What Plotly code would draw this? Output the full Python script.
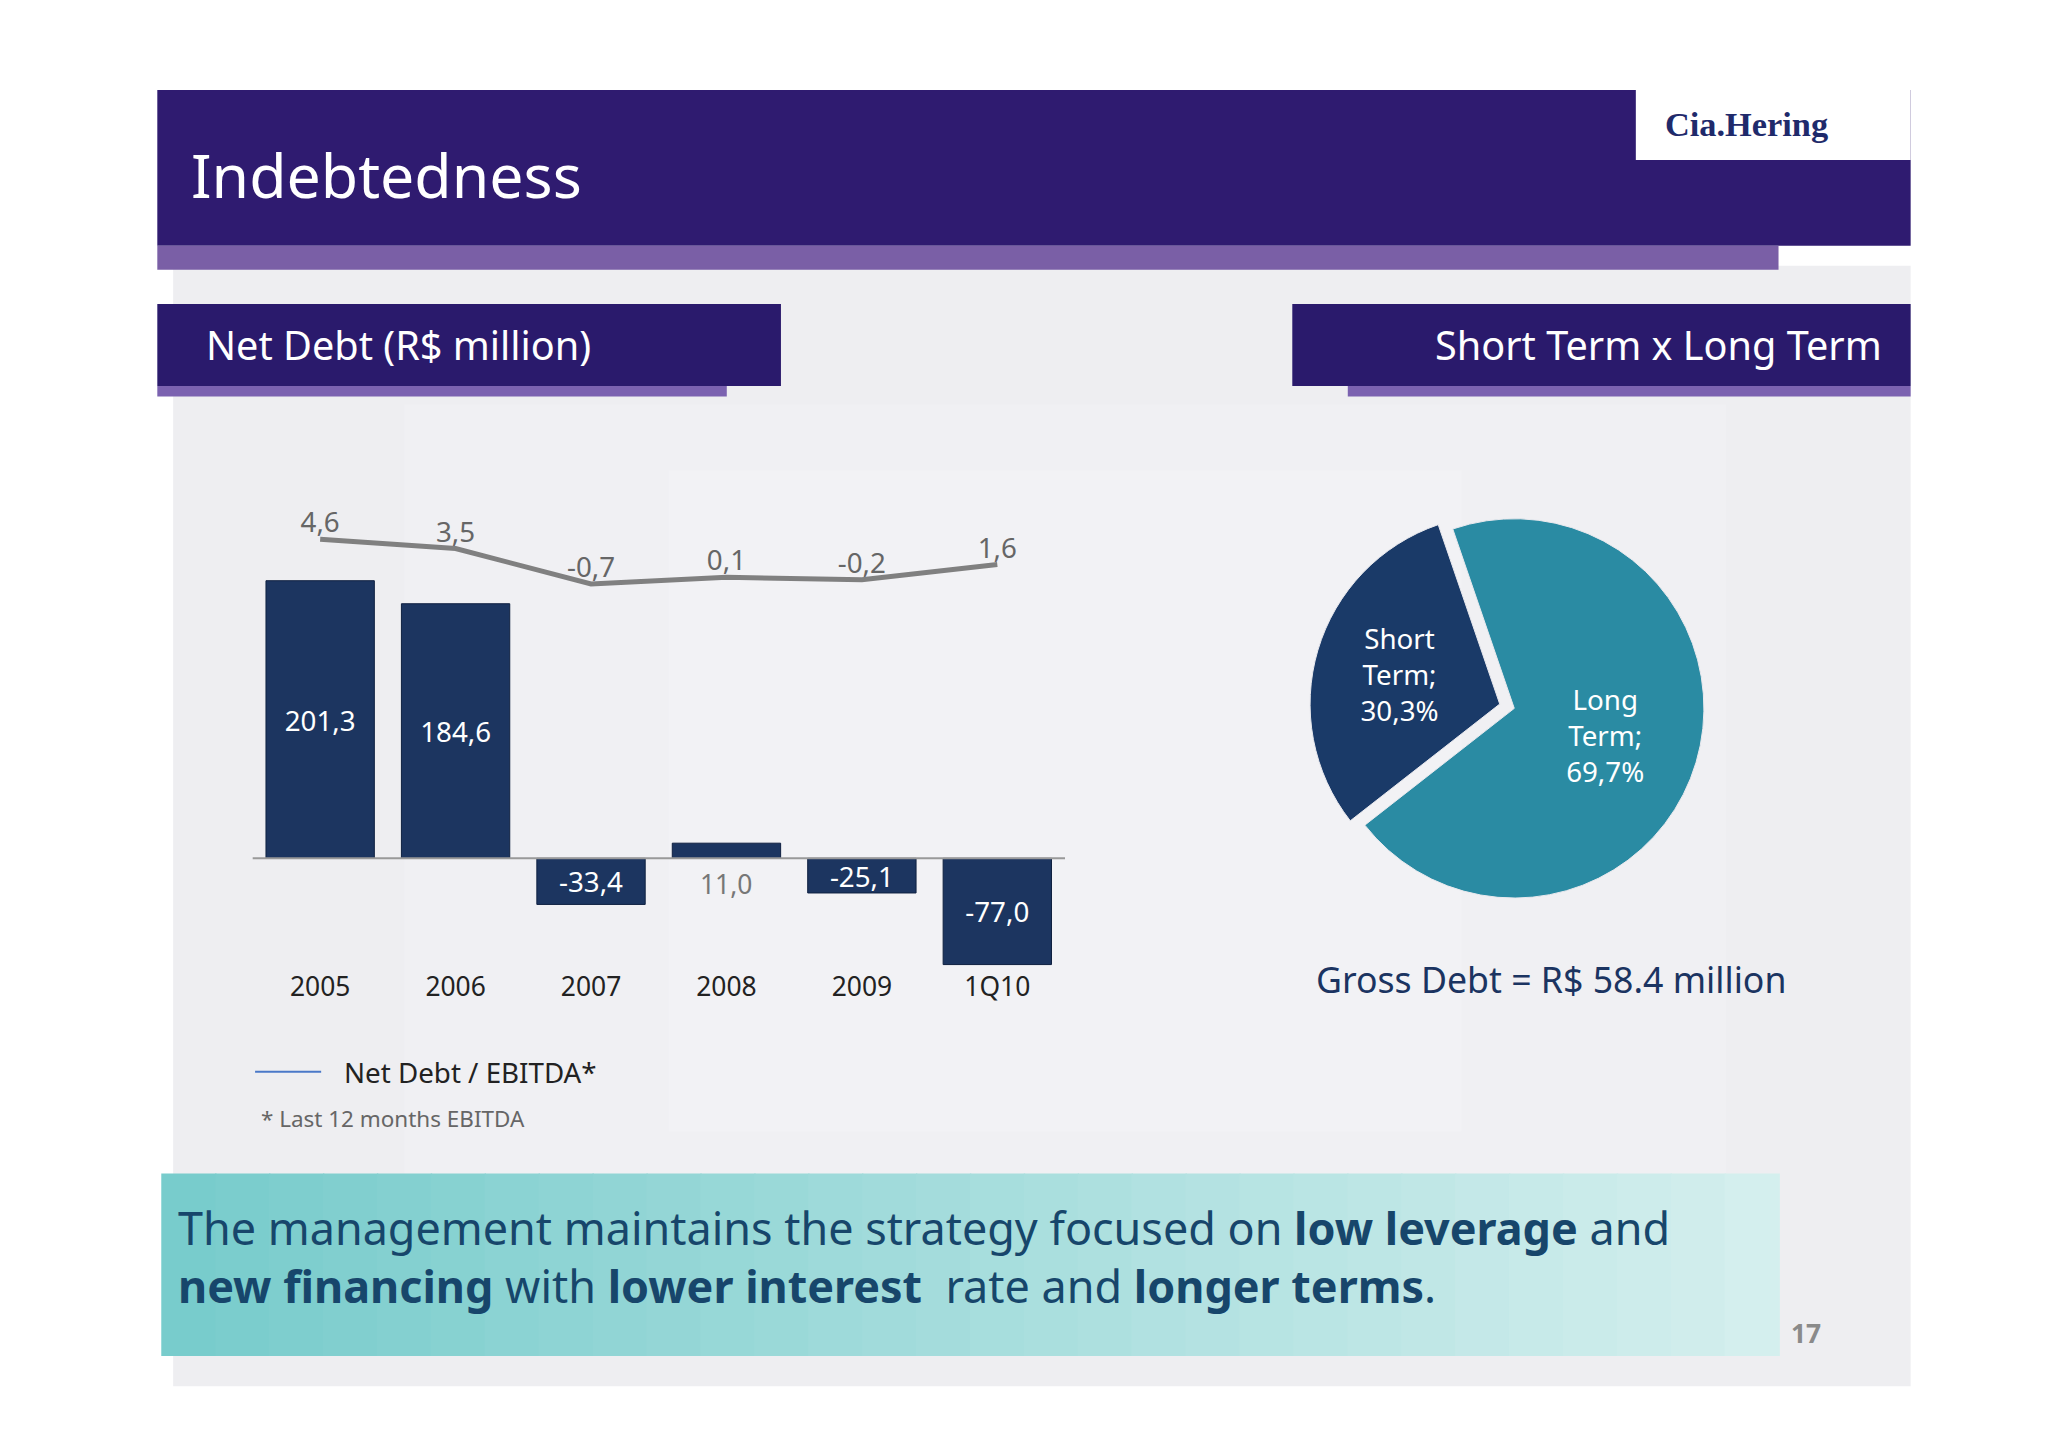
import plotly.graph_objects as go

# slide measured in a 1550 x 1095 grid, converted to paper fractions
W, H = 1550.0, 1095.0
S = 2048 / W  # font scale to real pixels

years = ["2005", "2006", "2007", "2008", "2009", "1Q10"]
net_debt = [201.3, 184.6, -33.4, 11.0, -25.1, -77.0]
net_debt_labels = ["201,3", "184,6", "-33,4", "11,0", "-25,1", "-77,0"]
ratio = [4.6, 3.5, -0.7, 0.1, -0.2, 1.6]
ratio_labels = ["4,6", "3,5", "-0,7", "0,1", "-0,2", "1,6"]
pie_labels = ["Short Term", "Long Term"]
pie_values = [30.3, 69.7]
pie_text = ["Short<br>Term;<br>30,3%", "Long<br>Term;<br>69,7%"]

FONT = "Noto Sans"
NAVY = "#1b3461"
pos = list(range(len(years)))


def px(x):
    return x / W


def py(y):
    return 1 - y / H


def rect(x0, y0, x1, y1, color):
    return dict(type="rect", xref="paper", yref="paper", x0=px(x0), x1=px(x1),
                y0=py(y1), y1=py(y0), fillcolor=color, line_width=0, layer="below")


def note(x, y, text, size, color, xanchor="left", yanchor="middle", **kw):
    return dict(xref="paper", yref="paper", x=px(x), y=py(y), text=text, showarrow=False,
                xanchor=xanchor, yanchor=yanchor,
                font=dict(family=kw.pop("family", FONT), size=size * S, color=color), **kw)


shapes = [
    rect(125, 195, 1440, 1043, "#eeeef1"),
    rect(300, 300, 1300, 900, "#f0f0f3"),
    rect(500, 350, 1100, 850, "#f2f2f5"),
    rect(113, 62, 1440, 180, "#2f1b70"),
    rect(113, 180, 1340, 198, "#7a5fa6"),
    rect(1232, 55, 1440, 115, "#ffffff"),
    rect(113, 224, 585, 286, "#2a1a6c"),
    rect(113, 286, 544, 294, "#7b62b0"),
    rect(972, 224, 1440, 286, "#2a1a6c"),
    rect(1014, 286, 1440, 294, "#7b62b0"),
]
# banner gradient
n = 30
for i in range(n):
    t = i / (n - 1)
    r = int(0x78 + (0xd4 - 0x78) * t)
    g = int(0xcc + (0xef - 0xcc) * t)
    b = int(0xcc + (0xee - 0xcc) * t)
    x0 = 116 + (1340 - 116) * i / n
    x1 = 116 + (1340 - 116) * (i + 1) / n + 1
    shapes.append(rect(x0, 882, x1, 1020, f"rgb({r},{g},{b})"))
shapes.append(dict(type="line", xref="paper", yref="paper", x0=px(187), x1=px(237),
                   y0=py(805), y1=py(805), line=dict(color="#4a78c8", width=2)))
# zero line of the bar chart
shapes.append(dict(type="line", xref="x", yref="y", x0=-0.5, x1=5.5, y0=0, y1=0,
                   line=dict(color="#999999", width=2)))

annotations = [
    note(137, 126, "Indebtedness", 46, "white"),
    note(1316, 88, "<b>Cia.Hering</b>", 26, "#1f2a6b", xanchor="center",
         family="Liberation Serif"),
    note(148, 255, "Net Debt (R$ million)", 30, "white"),
    note(1420, 255, "Short Term x Long Term", 30, "white", xanchor="right"),
    note(1168, 735, "Gross Debt = R$ 58.4 million", 27, NAVY, xanchor="center"),
    note(253, 805, "Net Debt / EBITDA*", 21, "#222222"),
    note(190, 840, "* Last 12 months EBITDA", 17, "#666666"),
    note(127, 945,
         "The management maintains the strategy focused on <b>low leverage</b> and<br>"
         "<b>new financing</b> with <b>lower interest</b>  rate and <b>longer terms</b>.",
         34, "#17466b", align="left"),
    note(1361, 1003, "<b>17</b>", 20, "#8a8a8a", xanchor="center"),
]

fig = go.Figure()
# small positive bar label sits below the axis in grey
fig.add_trace(go.Bar(
    x=pos, y=net_debt,
    text=[t if abs(v) > 12 else "" for t, v in zip(net_debt_labels, net_debt)],
    textposition="inside", insidetextanchor="middle", width=0.8,
    constraintext="none",
    marker=dict(color="#1c3560", line=dict(color="#0f2040", width=1)),
    textfont=dict(family=FONT, size=21 * S, color="white"), showlegend=False,
    hoverinfo="skip"))
for i, v, t in zip(pos, net_debt, net_debt_labels):
    if abs(v) <= 12:
        annotations.append(dict(x=i, y=0, xref="x", yref="y", text=t, showarrow=False,
                                yanchor="top", yshift=-6,
                                font=dict(family=FONT, size=20 * S, color="#777777")))
fig.add_trace(go.Scatter(
    x=pos, y=ratio, yaxis="y2", mode="lines+text", text=ratio_labels,
    textposition="top center", line=dict(color="#808080", width=5),
    textfont=dict(family=FONT, size=21 * S, color="#666666"), showlegend=False,
    cliponaxis=False, hoverinfo="skip"))
fig.add_trace(go.Pie(
    labels=pie_labels, values=pie_values, text=pie_text, textinfo="text",
    sort=False, direction="clockwise", rotation=232, pull=[0.08, 0],
    marker=dict(colors=["#1a3a68", "#2a8ba3"], line=dict(color="#e9e9ee", width=1)),
    textfont=dict(family=FONT, size=21 * S, color="white"),
    domain=dict(x=[px(890), px(1390)], y=[py(685), py(375)]),
    showlegend=False, hoverinfo="skip"))

fig.update_layout(
    width=2048, height=1447, margin=dict(l=0, r=0, t=0, b=0),
    paper_bgcolor="white", plot_bgcolor="rgba(0,0,0,0)",
    shapes=shapes, annotations=annotations,
    uniformtext=dict(minsize=21 * S, mode="show"),
    xaxis=dict(domain=[px(185), px(800)], range=[-0.5, 5.5], showgrid=False,
               zeroline=False, ticks="", tickvals=pos, ticktext=years,
               tickfont=dict(family=FONT, size=20 * S, color="#222222")),
    yaxis=dict(domain=[py(727), py(393)], range=[-80, 240], visible=False,
               showgrid=False, zeroline=False),
    yaxis2=dict(overlaying="y", range=[-46.2, 6.0], visible=False),
)
fig.write_html("out.html")
